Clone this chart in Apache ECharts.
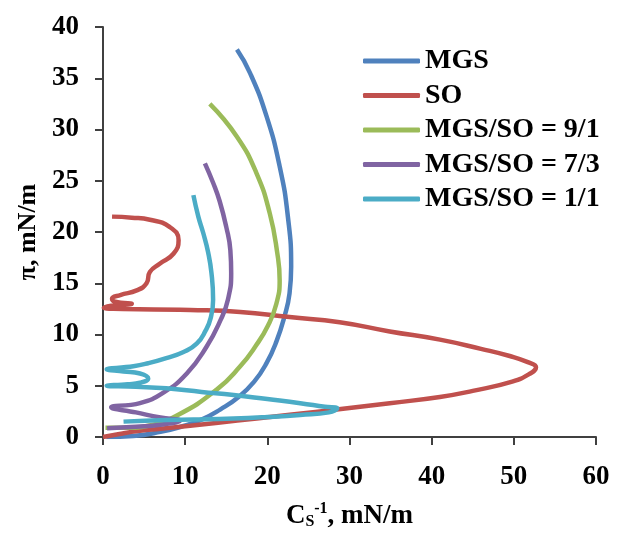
<!DOCTYPE html>
<html>
<head>
<meta charset="utf-8">
<script src="https://cdn.jsdelivr.net/npm/echarts@6/dist/echarts.min.js"></script>
<style>
  html, body { margin: 0; padding: 0; background: #fff; }
  #chart { width: 619px; height: 537px; }
</style>
</head>
<body>
<div id="chart"></div>
<script>
// series names and [Cs^-1, pi] points
var seriesNames = ['MGS', 'SO', 'MGS/SO = 9/1', 'MGS/SO = 7/3', 'MGS/SO = 1/1'];
var seriesColors = ['#4F81BD', '#C0504D', '#9BBB59', '#8064A2', '#4BACC6'];

var mgsData = [
  [16.3, 37.8], [17.9, 35.5], [19.9, 31.3], [21.5, 26.4], [22.5, 21.5],
  [22.9, 16.6], [22.7, 14.0], [22.1, 11.8], [21.1, 9.3], [19.9, 7.2],
  [18.4, 5.4], [16.5, 3.9], [14.3, 2.7], [12.0, 1.7], [9.5, 1.0],
  [7.0, 0.5], [3.7, 0.1], [0.4, 0]
];
var soData = [
  [1.1, 21.5], [3.5, 21.4], [5.7, 21.2], [8.1, 20.5], [9.2, 19.2],
  [8.6, 17.9], [6.9, 16.9], [5.7, 16.1], [5.3, 15.0], [4.1, 14.3],
  [2.1, 13.85], [1.1, 13.5], [1.5, 13.2], [3.5, 13.0], [1.0, 12.8],
  [0.1, 12.6], [10.6, 12.4], [16.7, 12.2], [22.7, 11.7], [28.8, 11.2],
  [34.9, 10.3], [41.0, 9.5], [46.0, 8.6], [49.5, 7.9], [51.7, 7.3],
  [52.7, 6.8], [52.0, 6.2], [49.8, 5.4], [45.0, 4.5], [41.0, 3.9],
  [34.9, 3.3], [28.7, 2.7], [23.0, 2.2], [18.7, 1.8], [14.0, 1.4],
  [10.6, 1.1], [7.0, 0.8], [4.5, 0.6], [2.0, 0.3], [0, 0]
];
var ratio91Data = [
  [13.0, 32.5], [16.3, 29.3], [18.7, 25.7], [20.3, 21.8], [21.2, 18.0],
  [21.5, 15.3], [21.1, 13.0], [20.1, 10.9], [18.6, 8.9], [16.7, 6.9],
  [13.8, 4.6], [9.0, 2.1], [5.5, 1.1], [3.0, 0.9], [0.3, 0.9]
];
var ratio73Data = [
  [12.4, 26.7], [13.4, 24.8], [14.2, 23.0], [15.0, 20.5], [15.5, 18.2],
  [15.6, 16.0], [15.2, 13.4], [14.3, 11.4], [12.6, 8.8], [10.2, 6.2],
  [7.3, 4.3], [4.5, 3.3], [1.0, 2.9], [4.0, 2.4], [7.0, 1.9],
  [9.4, 1.6], [7.0, 1.2], [4.0, 1.0], [0.5, 0.85]
];
var ratio11Data = [
  [11.0, 23.6], [11.6, 21.5], [12.2, 19.9], [12.8, 18.0], [13.2, 16.0],
  [13.4, 13.4], [13.1, 11.6], [12.5, 10.4], [11.4, 9.1], [9.8, 8.3],
  [7.7, 7.7], [5.5, 7.2], [3.7, 6.9], [0.45, 6.6], [2.5, 6.4],
  [4.5, 6.2], [5.5, 5.7], [4.5, 5.3], [3.0, 5.15], [0.45, 5.0],
  [4.0, 4.9], [7.7, 4.75], [12.0, 4.4], [15.9, 4.1], [20.0, 3.7],
  [24.0, 3.3], [27.0, 2.95], [28.5, 2.8], [27.5, 2.4], [24.0, 2.15],
  [20.0, 1.95], [15.9, 1.8], [11.0, 1.7], [7.7, 1.66], [2.5, 1.5]
];
var allData = [mgsData, soData, ratio91Data, ratio73Data, ratio11Data];

var xTicks = { min: 0, max: 60, step: 10 };
var yTicks = { min: 0, max: 40, step: 5 };

var chart = echarts.init(document.getElementById('chart'));
var font = '"Liberation Serif", "Times New Roman", serif';
var axisColor = '#404040';

var series = [];
for (var i = 0; i < seriesNames.length; i++) {
  series.push({
    name: seriesNames[i],
    type: 'line',
    data: allData[i],
    showSymbol: false,
    smooth: 0.5,
    lineStyle: { color: seriesColors[i], width: 4.5 },
    itemStyle: { color: seriesColors[i] },
    z: 2 + i
  });
}

chart.setOption({
  backgroundColor: '#fff',
  animation: false,
  grid: { left: 103, right: 23, top: 27, bottom: 100, outerBoundsMode: 'none' },
  legend: {
    orient: 'vertical',
    left: 363,
    top: 47,
    padding: 0,
    icon: 'roundRect',
    itemWidth: 57,
    itemHeight: 5,
    itemGap: 6.5,
    data: seriesNames,
    textStyle: { fontFamily: font, fontWeight: 'bold', fontSize: 28, lineHeight: 28, color: '#000' }
  },
  xAxis: {
    type: 'value',
    min: xTicks.min, max: xTicks.max, interval: xTicks.step,
    name: '{b|C}{sub|S}{sup|-1}{b|, mN/m}',
    nameLocation: 'middle',
    nameGap: 64,
    nameTextStyle: {
      rich: {
        b: { fontFamily: font, fontWeight: 'bold', fontSize: 27, color: '#000' },
        sub: { fontFamily: font, fontWeight: 'bold', fontSize: 16, color: '#000', padding: [12, 0, 0, 0] },
        sup: { fontFamily: font, fontWeight: 'bold', fontSize: 16, color: '#000', padding: [0, 0, 14, 0] }
      }
    },
    axisLine: { lineStyle: { color: axisColor, width: 2 } },
    axisTick: { inside: false, length: 8, lineStyle: { color: axisColor, width: 2 } },
    axisLabel: { fontFamily: font, fontWeight: 'bold', fontSize: 27, color: '#000', margin: 27 },
    splitLine: { show: false }
  },
  yAxis: {
    type: 'value',
    min: yTicks.min, max: yTicks.max, interval: yTicks.step,
    name: 'π, mN/m',
    nameLocation: 'middle',
    nameRotate: 90,
    nameGap: 62,
    nameTextStyle: { fontFamily: font, fontWeight: 'bold', fontSize: 26, color: '#000' },
    axisLine: { onZero: false, lineStyle: { color: axisColor, width: 2 } },
    axisTick: { inside: false, length: 8, lineStyle: { color: axisColor, width: 2 } },
    axisLabel: { fontFamily: font, fontWeight: 'bold', fontSize: 27, color: '#000', margin: 24 },
    splitLine: { show: false }
  },
  series: series
});
</script>
</body>
</html>
